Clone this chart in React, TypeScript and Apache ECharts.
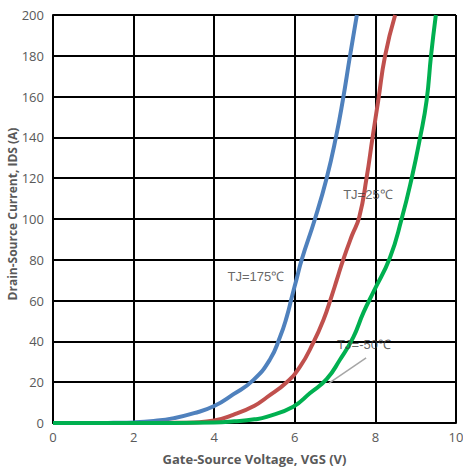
import React, { useEffect, useRef } from "react";
import * as echarts from "echarts";

const xTicks = [0, 2, 4, 6, 8, 10];
const yTicks = [0, 20, 40, 60, 80, 100, 120, 140, 160, 180, 200];
const yTitle = "Drain-Source Current, IDS (A)";
const xTitle = "Gate-Source Voltage, VGS (V)";

const tj175: [number, number][] = [
  [0, 0], [1, 0], [1.5, 0.1], [2, 0.3], [2.5, 1], [3, 2.4], [3.5, 4.8], [4, 8.3], [4.47, 14],
  [4.97, 21], [5.38, 31], [5.63, 42], [5.8, 52], [5.93, 62], [6.05, 71], [6.17, 80], [6.5, 100],
  [6.79, 120], [7.02, 140], [7.19, 158], [7.37, 180], [7.54, 200],
];
const tj25: [number, number][] = [
  [0, 0], [2, 0], [3, 0.1], [3.5, 0.3], [4, 1.2], [4.47, 4], [5, 8.5], [5.3, 12.5], [5.8, 20],
  [6.13, 27.6], [6.45, 39], [6.71, 50.5], [6.91, 62], [7.04, 70], [7.2, 80], [7.42, 92],
  [7.6, 101], [7.78, 120], [7.93, 140], [8.07, 158], [8.24, 180], [8.49, 200],
];
const tjm50: [number, number][] = [
  [0, 0], [3, 0], [4, 0.2], [4.5, 0.8], [5, 1.8], [5.3, 3], [5.96, 8], [6.38, 14.7], [6.79, 21.5],
  [7.12, 31], [7.45, 42], [7.7, 54], [7.97, 65], [8.36, 81], [8.65, 100], [8.9, 120], [9.11, 140],
  [9.27, 158], [9.38, 180], [9.5, 200],
];
const labels: { text: string; at: [number, number] }[] = [
  { text: "TJ=175℃", at: [4.33, 72] },
  { text: "TJ=25℃", at: [7.2, 112] },
  { text: "TJ=-50℃", at: [7.05, 38.5] },
];
const leader: [number, number][] = [[6.85, 19.6], [7.77, 31.9]];

export default function App() {
  const ref = useRef<HTMLDivElement>(null);
  useEffect(() => {
    if (!ref.current) return;
    const chart = echarts.init(ref.current, null, { renderer: "svg" });
    const lineSeries = (name: string, data: [number, number][], color: string) => ({
      name,
      type: "line",
      data,
      smooth: 0.5,
      showSymbol: false,
      symbol: "none",
      lineStyle: { color, width: 4 },
      z: 3,
    });
    const axisCommon = {
      nameLocation: "middle",
      axisLine: { show: true, lineStyle: { color: "#000", width: 2 } },
      axisTick: { show: false },
      splitLine: { show: true, lineStyle: { color: "#000", width: 2 } },
    };
    chart.setOption({
      animation: false,
      backgroundColor: "#ffffff",
      grid: { left: 53, right: 7, top: 15, bottom: 46, containLabel: false, outerBoundsMode: "none" },
      xAxis: {
        ...axisCommon,
        type: "value",
        min: 0,
        max: 10,
        interval: 2,
        name: xTitle,
        nameGap: 28,
        nameTextStyle: { fontFamily: "Open Sans", fontWeight: "bold", fontSize: 13, color: "#595959", lineHeight: 16 },
        axisLabel: { fontFamily: "Open Sans", fontSize: 13, color: "#595959", margin: 7 },
      },
      yAxis: {
        ...axisCommon,
        type: "value",
        min: 0,
        max: 200,
        interval: 20,
        axisLabel: { fontFamily: "Open Sans", fontSize: 13, color: "#595959", margin: 9 },
      },
      graphic: [
        {
          type: "text",
          x: 12,
          y: 214,
          rotation: Math.PI / 2,
          style: {
            text: yTitle,
            fontFamily: "Open Sans",
            fontWeight: "bold",
            fontSize: 12,
            fill: "#595959",
            align: "center",
            verticalAlign: "middle",
          },
        },
      ],
      series: [
        lineSeries("TJ=175℃", tj175, "#4F81BD"),
        lineSeries("TJ=25℃", tj25, "#C0504D"),
        lineSeries("TJ=-50℃", tjm50, "#00B050"),
        {
          type: "line",
          data: leader,
          symbol: "none",
          lineStyle: { color: "#A6A6A6", width: 1.5 },
          z: 4,
        },
        {
          type: "scatter",
          symbolSize: 0,
          z: 5,
          data: labels.map((l) => ({ value: l.at, name: l.text })),
          label: {
            show: true,
            position: "right",
            distance: 0,
            formatter: (p: any) => p.name,
            fontFamily: "Liberation Sans",
            fontSize: 13,
            color: "#404040",
          },
        },
      ],
    });
    return () => chart.dispose();
  }, []);
  return <div ref={ref} style={{ width: 463, height: 469, position: "absolute", left: 0, top: 0 }} />;
}
